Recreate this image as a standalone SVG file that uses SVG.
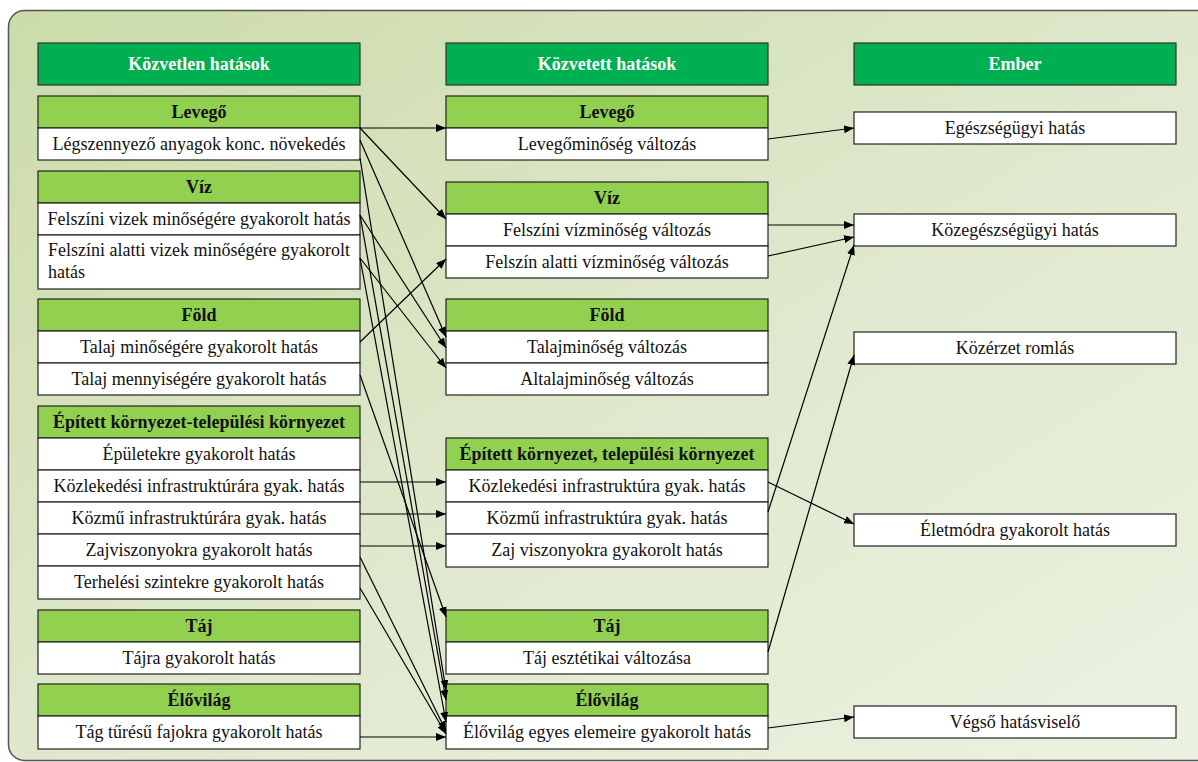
<svg xmlns="http://www.w3.org/2000/svg" width="1198" height="762" viewBox="0 0 1198 762">
  <defs>
    <linearGradient id="bg" x1="0" y1="0" x2="1" y2="1">
      <stop offset="0" stop-color="#cbdba8"/>
      <stop offset="0.55" stop-color="#e0e9cf"/>
      <stop offset="1" stop-color="#ebf2e1"/>
    </linearGradient>
    <marker id="arr" viewBox="0 0 10 8" refX="10" refY="4" markerWidth="10" markerHeight="8" markerUnits="userSpaceOnUse" orient="auto">
      <path d="M0,0 L10,4 L0,8 Z" fill="#000"/>
    </marker>
    <style>
      .hdr { fill: #00b050; stroke: #333; stroke-width: 1.2; }
      .grp { fill: #92d050; stroke: #222; stroke-width: 1.2; }
      .row { fill: #ffffff; stroke: #222; stroke-width: 1.2; }
      .t { text-anchor: middle; fill: #111; }
      .b { font-weight: bold; }
      .w { fill: #ffffff; font-weight: bold; }
      .c { fill: none; stroke: #000; stroke-width: 1.2; marker-end: url(#arr); }
    </style>
  </defs>

  <!-- panel -->
  <rect x="8.5" y="10.5" width="1210" height="750" rx="16" fill="url(#bg)" stroke="#555" stroke-width="1.5"/>

  <g font-family="Liberation Serif" font-size="18" fill="#111">
  <!-- column 1: direct effects -->
  <g id="col1-header">
    <rect class="hdr" x="38" y="43" width="322" height="42"/>
    <text class="t w" x="199" y="70">Közvetlen hatások</text>
  </g>
  <g id="c1-levego">
    <rect class="grp" x="38" y="96" width="322" height="32"/>
    <text class="t b" x="199" y="118">Levegő</text>
    <rect class="row" x="38" y="128" width="322" height="32"/>
    <text class="t" x="199" y="150">Légszennyező anyagok konc. növekedés</text>
  </g>
  <g id="c1-viz">
    <rect class="grp" x="38" y="171" width="322" height="32"/>
    <text class="t b" x="199" y="193">Víz</text>
    <rect class="row" x="38" y="203" width="322" height="32"/>
    <text class="t" x="199" y="225">Felszíni vizek minőségére gyakorolt hatás</text>
    <rect class="row" x="38" y="235" width="322" height="54"/>
    <text class="t" x="199" y="256">Felszíni alatti vizek minőségére gyakorolt</text>
    <text x="48" y="278">hatás</text>
  </g>
  <g id="c1-fold">
    <rect class="grp" x="38" y="299" width="322" height="32"/>
    <text class="t b" x="199" y="321">Föld</text>
    <rect class="row" x="38" y="331" width="322" height="32"/>
    <text class="t" x="199" y="353">Talaj minőségére gyakorolt hatás</text>
    <rect class="row" x="38" y="363" width="322" height="32"/>
    <text class="t" x="199" y="385">Talaj mennyiségére gyakorolt hatás</text>
  </g>
  <g id="c1-epitett">
    <rect class="grp" x="38" y="406" width="322" height="32"/>
    <text class="t b" x="199" y="428">Épített környezet-települési környezet</text>
    <rect class="row" x="38" y="438" width="322" height="32"/>
    <text class="t" x="199" y="460">Épületekre gyakorolt hatás</text>
    <rect class="row" x="38" y="470" width="322" height="32"/>
    <text class="t" x="199" y="492">Közlekedési infrastruktúrára gyak. hatás</text>
    <rect class="row" x="38" y="502" width="322" height="32"/>
    <text class="t" x="199" y="524">Közmű infrastruktúrára gyak. hatás</text>
    <rect class="row" x="38" y="534" width="322" height="32"/>
    <text class="t" x="199" y="556">Zajviszonyokra gyakorolt hatás</text>
    <rect class="row" x="38" y="566" width="322" height="33"/>
    <text class="t" x="199" y="588">Terhelési szintekre gyakorolt hatás</text>
  </g>
  <g id="c1-taj">
    <rect class="grp" x="38" y="610" width="322" height="32"/>
    <text class="t b" x="199" y="632">Táj</text>
    <rect class="row" x="38" y="642" width="322" height="32"/>
    <text class="t" x="199" y="664">Tájra gyakorolt hatás</text>
  </g>
  <g id="c1-elovilag">
    <rect class="grp" x="38" y="684" width="322" height="32"/>
    <text class="t b" x="199" y="706">Élővilág</text>
    <rect class="row" x="38" y="716" width="322" height="33"/>
    <text class="t" x="199" y="738">Tág tűrésű fajokra gyakorolt hatás</text>
  </g>

  <!-- column 2: indirect effects -->
  <g id="col2-header">
    <rect class="hdr" x="446" y="43" width="322" height="42"/>
    <text class="t w" x="607" y="70">Közvetett hatások</text>
  </g>
  <g id="c2-levego">
    <rect class="grp" x="446" y="96" width="322" height="32"/>
    <text class="t b" x="607" y="118">Levegő</text>
    <rect class="row" x="446" y="128" width="322" height="32"/>
    <text class="t" x="607" y="150">Levegőminőség változás</text>
  </g>
  <g id="c2-viz">
    <rect class="grp" x="446" y="182" width="322" height="32"/>
    <text class="t b" x="607" y="204">Víz</text>
    <rect class="row" x="446" y="214" width="322" height="32"/>
    <text class="t" x="607" y="236">Felszíni vízminőség változás</text>
    <rect class="row" x="446" y="246" width="322" height="32"/>
    <text class="t" x="607" y="268">Felszín alatti vízminőség változás</text>
  </g>
  <g id="c2-fold">
    <rect class="grp" x="446" y="299" width="322" height="32"/>
    <text class="t b" x="607" y="321">Föld</text>
    <rect class="row" x="446" y="331" width="322" height="32"/>
    <text class="t" x="607" y="353">Talajminőség változás</text>
    <rect class="row" x="446" y="363" width="322" height="32"/>
    <text class="t" x="607" y="385">Altalajminőség változás</text>
  </g>
  <g id="c2-epitett">
    <rect class="grp" x="446" y="438" width="322" height="32"/>
    <text class="t b" x="607" y="460">Épített környezet, települési környezet</text>
    <rect class="row" x="446" y="470" width="322" height="32"/>
    <text class="t" x="607" y="492">Közlekedési infrastruktúra gyak. hatás</text>
    <rect class="row" x="446" y="502" width="322" height="32"/>
    <text class="t" x="607" y="524">Közmű infrastruktúra gyak. hatás</text>
    <rect class="row" x="446" y="534" width="322" height="33"/>
    <text class="t" x="607" y="556">Zaj viszonyokra gyakorolt hatás</text>
  </g>
  <g id="c2-taj">
    <rect class="grp" x="446" y="610" width="322" height="32"/>
    <text class="t b" x="607" y="632">Táj</text>
    <rect class="row" x="446" y="642" width="322" height="32"/>
    <text class="t" x="607" y="664">Táj esztétikai változása</text>
  </g>
  <g id="c2-elovilag">
    <rect class="grp" x="446" y="684" width="322" height="32"/>
    <text class="t b" x="607" y="706">Élővilág</text>
    <rect class="row" x="446" y="716" width="322" height="33"/>
    <text class="t" x="607" y="738">Élővilág egyes elemeire gyakorolt hatás</text>
  </g>

  <!-- column 3: human receptors -->
  <g id="col3-header">
    <rect class="hdr" x="854" y="43" width="322" height="42"/>
    <text class="t w" x="1015" y="70">Ember</text>
  </g>
  <g id="c3-egeszseg">
    <rect class="row" x="854" y="112" width="322" height="32"/>
    <text class="t" x="1015" y="134">Egészségügyi hatás</text>
  </g>
  <g id="c3-kozegeszseg">
    <rect class="row" x="854" y="214" width="322" height="32"/>
    <text class="t" x="1015" y="236">Közegészségügyi hatás</text>
  </g>
  <g id="c3-kozerzet">
    <rect class="row" x="854" y="332" width="322" height="32"/>
    <text class="t" x="1015" y="354">Közérzet romlás</text>
  </g>
  <g id="c3-eletmod">
    <rect class="row" x="854" y="514" width="322" height="32"/>
    <text class="t" x="1015" y="536">Életmódra gyakorolt hatás</text>
  </g>
  <g id="c3-vegso">
    <rect class="row" x="854" y="706" width="322" height="32"/>
    <text class="t" x="1015" y="728">Végső hatásviselő</text>
  </g>
  </g>

  <!-- connectors -->
  <g id="connectors">
    <line class="c" x1="360" y1="128" x2="446" y2="128"/>
    <line class="c" x1="360" y1="128" x2="446" y2="219"/>
    <line class="c" x1="360" y1="140" x2="446" y2="337"/>
    <line class="c" x1="360" y1="158" x2="446" y2="690"/>
    <line class="c" x1="360" y1="215" x2="446" y2="348"/>
    <line class="c" x1="360" y1="215" x2="446" y2="700"/>
    <line class="c" x1="360" y1="258" x2="446" y2="368"/>
    <line class="c" x1="360" y1="258" x2="446" y2="722"/>
    <line class="c" x1="360" y1="342" x2="446" y2="259"/>
    <line class="c" x1="360" y1="375" x2="446" y2="617"/>
    <line class="c" x1="360" y1="482" x2="446" y2="482"/>
    <line class="c" x1="360" y1="514" x2="446" y2="514"/>
    <line class="c" x1="360" y1="546" x2="446" y2="546"/>
    <line class="c" x1="360" y1="557" x2="446" y2="731"/>
    <line class="c" x1="360" y1="588" x2="446" y2="734"/>
    <line class="c" x1="360" y1="737" x2="446" y2="737"/>
    <line class="c" x1="768" y1="139" x2="854" y2="128"/>
    <line class="c" x1="768" y1="225" x2="854" y2="225"/>
    <line class="c" x1="768" y1="256" x2="854" y2="237"/>
    <line class="c" x1="768" y1="512" x2="854" y2="245"/>
    <line class="c" x1="768" y1="652" x2="854" y2="355"/>
    <line class="c" x1="768" y1="482" x2="854" y2="524"/>
    <line class="c" x1="768" y1="728" x2="854" y2="717"/>
  </g>
</svg>
